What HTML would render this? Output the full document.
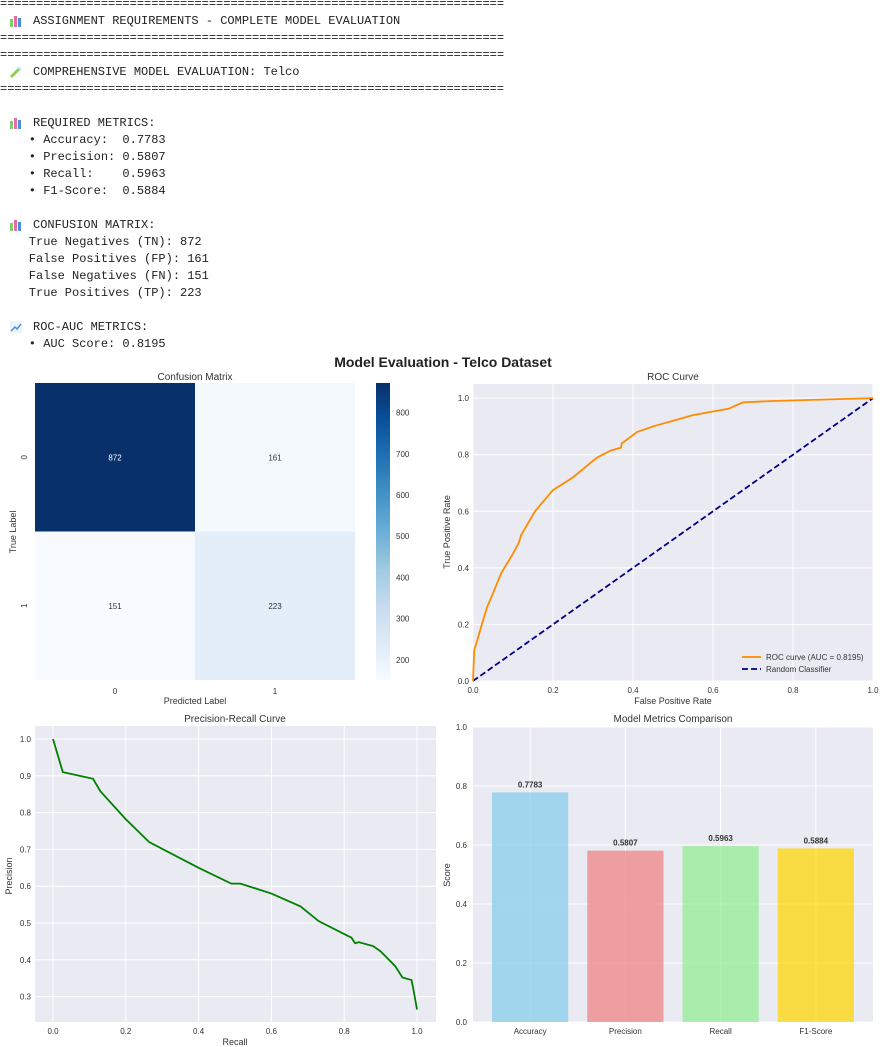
<!DOCTYPE html>
<html><head><meta charset="utf-8">
<style>
body{margin:0;background:#fff;width:890px;height:1047px;overflow:hidden;position:relative;font-family:"Liberation Sans",sans-serif}
.t{position:absolute;left:0;font-family:"Liberation Mono",monospace;font-size:12px;line-height:17px;white-space:pre;color:#222}
svg text{font-family:"Liberation Sans",sans-serif}
</style></head>
<body>
<div>
<div class="t" style="top:-4px">======================================================================</div>
<div class="t" style="top:13px;left:33px">ASSIGNMENT REQUIREMENTS - COMPLETE MODEL EVALUATION</div>
<svg style="position:absolute;left:10px;top:15px" width="12" height="12"><rect x="0" y="4" width="3" height="8" fill="#7ccf6a"/><rect x="4" y="1" width="3" height="11" fill="#e86aa6"/><rect x="8" y="3" width="3" height="9" fill="#4a90d9"/></svg>
<div class="t" style="top:30px">======================================================================</div>
<div class="t" style="top:47px">======================================================================</div>
<svg style="position:absolute;left:10px;top:66px" width="12" height="12"><line x1="1" y1="11" x2="10" y2="2" stroke="#8fd14f" stroke-width="3"/><line x1="8" y1="1" x2="11" y2="4" stroke="#aee" stroke-width="2"/></svg>
<div class="t" style="top:64px;left:33px">COMPREHENSIVE MODEL EVALUATION: Telco</div>
<div class="t" style="top:81px">======================================================================</div>
<svg style="position:absolute;left:10px;top:117px" width="12" height="12"><rect x="0" y="4" width="3" height="8" fill="#7ccf6a"/><rect x="4" y="1" width="3" height="11" fill="#e86aa6"/><rect x="8" y="3" width="3" height="9" fill="#4a90d9"/></svg>
<div class="t" style="top:115px;left:33px">REQUIRED METRICS:</div>
<div class="t" style="top:132px">    • Accuracy:  0.7783</div>
<div class="t" style="top:149px">    • Precision: 0.5807</div>
<div class="t" style="top:166px">    • Recall:    0.5963</div>
<div class="t" style="top:183px">    • F1-Score:  0.5884</div>
<svg style="position:absolute;left:10px;top:219px" width="12" height="12"><rect x="0" y="4" width="3" height="8" fill="#7ccf6a"/><rect x="4" y="1" width="3" height="11" fill="#e86aa6"/><rect x="8" y="3" width="3" height="9" fill="#4a90d9"/></svg>
<div class="t" style="top:217px;left:33px">CONFUSION MATRIX:</div>
<div class="t" style="top:234px">    True Negatives (TN): 872</div>
<div class="t" style="top:251px">    False Positives (FP): 161</div>
<div class="t" style="top:268px">    False Negatives (FN): 151</div>
<div class="t" style="top:285px">    True Positives (TP): 223</div>
<svg style="position:absolute;left:10px;top:321px" width="12" height="12"><rect x="0" y="0" width="12" height="12" fill="#eef3fa"/><polyline points="1,10 5,6 7,8 11,3" fill="none" stroke="#4a90d9" stroke-width="1.5"/></svg>
<div class="t" style="top:319px;left:33px">ROC-AUC METRICS:</div>
<div class="t" style="top:336px">    • AUC Score: 0.8195</div>
</div>

<svg id="fig" style="position:absolute;left:0;top:0" width="890" height="1047">
<text x="443" y="367" text-anchor="middle" font-size="14" font-weight="bold" fill="#222">Model Evaluation - Telco Dataset</text>
<g id="cm"></g><g id="roc"></g><g id="pr"></g><g id="bar"></g>
</svg>

<script>
const cmLabels=['0','1'];
const cmValues=[[872,161],[151,223]];
const cbTicks=[200,300,400,500,600,700,800];
const rocFpr=[0,0.003,0.01,0.02,0.035,0.05,0.07,0.1,0.115,0.12,0.155,0.2,0.25,0.31,0.345,0.37,0.372,0.41,0.45,0.55,0.64,0.655,0.675,0.75,1];
const rocTpr=[0,0.11,0.14,0.19,0.26,0.31,0.38,0.45,0.49,0.515,0.6,0.675,0.72,0.79,0.815,0.825,0.84,0.88,0.9,0.94,0.963,0.973,0.985,0.99,1];
const rocTicks=[0,0.2,0.4,0.6,0.8,1.0];
const prRecall=[0,0.027,0.11,0.13,0.2,0.264,0.4,0.49,0.515,0.6,0.68,0.73,0.8,0.82,0.83,0.84,0.88,0.9,0.94,0.96,0.985,0.99,1.0];
const prPrecision=[1.0,0.91,0.892,0.858,0.782,0.72,0.65,0.607,0.607,0.58,0.545,0.505,0.47,0.46,0.445,0.448,0.437,0.423,0.383,0.352,0.345,0.32,0.265];
const prYTicks=[0.3,0.4,0.5,0.6,0.7,0.8,0.9,1.0];
const prXTicks=[0,0.2,0.4,0.6,0.8,1.0];
const barNames=['Accuracy','Precision','Recall','F1-Score'];
const barValues=[0.7783,0.5807,0.5963,0.5884];
const barTicks=[0,0.2,0.4,0.6,0.8,1.0];
const barColors=['rgba(135,206,235,0.75)','rgba(240,128,128,0.72)','rgba(144,238,144,0.72)','rgba(255,215,0,0.72)'];

const NS='http://www.w3.org/2000/svg';
function mk(p,tag,at,txt){const e=document.createElementNS(NS,tag);for(const k in at)e.setAttribute(k,at[k]);if(txt!==undefined)e.textContent=txt;p.appendChild(e);return e;}
function blues(t){const s=[[247,251,255],[222,235,247],[198,219,239],[158,202,225],[107,174,214],[66,146,198],[33,113,181],[8,81,156],[8,48,107]];t=Math.max(0,Math.min(1,t))*8;const i=Math.min(7,Math.floor(t)),f=t-i;const c=s[i].map((v,k)=>Math.round(v+(s[i+1][k]-v)*f));return `rgb(${c})`;}
function fmt1(v){return v.toFixed(1);}

(function(){
const g=document.getElementById('cm');
const x0=35,x1=355,y0=383,y1=680,cw=(x1-x0)/2,ch=(y1-y0)/2;
const flat=cmValues.flat();const vmin=Math.min(...flat),vmax=Math.max(...flat);
mk(g,'text',{x:195,y:380,'text-anchor':'middle','font-size':10,fill:'#333'},'Confusion Matrix');
cmValues.forEach((row,i)=>row.forEach((v,j)=>{
 const t=(v-vmin)/(vmax-vmin);
 const r=mk(g,'rect',{x:x0+j*cw,y:y0+i*ch,width:cw,height:ch,fill:blues(t)});
 
 
 const tx=mk(g,'text',{x:x0+j*cw+cw/2,y:y0+i*ch+ch/2+3,'text-anchor':'middle','font-size':8,fill:t>0.5?'#fff':'#333'},String(v));
 
 
}));
cmLabels.forEach((l,j)=>{mk(g,'text',{x:x0+j*cw+cw/2,y:694,'text-anchor':'middle','font-size':8,fill:'#333'},l);
 mk(g,'text',{x:27,y:y0+j*ch+ch/2,'text-anchor':'middle','font-size':8,fill:'#333',transform:`rotate(-90 27 ${y0+j*ch+ch/2})`},l);});
mk(g,'text',{x:195,y:704,'text-anchor':'middle','font-size':9,fill:'#333'},'Predicted Label');
mk(g,'text',{x:16,y:532,'text-anchor':'middle','font-size':9,fill:'#333',transform:'rotate(-90 16 532)'},'True Label');
const cx=376,cwid=14;
const defs=mk(g,'defs',{});const lg=mk(defs,'linearGradient',{id:'cbg',x1:0,y1:1,x2:0,y2:0});
for(let k=0;k<=8;k++)mk(lg,'stop',{offset:k/8,'stop-color':blues(k/8)});
const cb=mk(g,'rect',{x:cx,y:y0,width:cwid,height:y1-y0,fill:'url(#cbg)'});


cbTicks.forEach(v=>{const y=y1-(v-vmin)/(vmax-vmin)*(y1-y0);mk(g,'text',{x:396,y:y+3,'font-size':8,fill:'#333'},String(v));});
})();

function axesBg(g,x0,x1,y0,y1){mk(g,'rect',{x:x0,y:y0,width:x1-x0,height:y1-y0,fill:'#eaeaf2'});}

(function(){
const g=document.getElementById('roc');
const X0=473,X1=873,Yt=384,Yb=681;
const sx=v=>X0+v*(X1-X0), sy=v=>Yb-v*(Yb-Yt)/1.05;
axesBg(g,X0,X1,Yt,Yb);
rocTicks.forEach(v=>{mk(g,'line',{x1:sx(v),x2:sx(v),y1:Yt,y2:Yb,stroke:'#fff','stroke-width':1});
 mk(g,'line',{x1:X0,x2:X1,y1:sy(v),y2:sy(v),stroke:'#fff','stroke-width':1});
 mk(g,'text',{x:sx(v),y:693,'text-anchor':'middle','font-size':8,fill:'#333'},fmt1(v));
 mk(g,'text',{x:469,y:sy(v)+3,'text-anchor':'end','font-size':8,fill:'#333'},fmt1(v));});
mk(g,'text',{x:673,y:380,'text-anchor':'middle','font-size':10,fill:'#333'},'ROC Curve');
mk(g,'text',{x:673,y:704,'text-anchor':'middle','font-size':9,fill:'#333'},'False Positive Rate');
mk(g,'text',{x:450,y:532,'text-anchor':'middle','font-size':9,fill:'#333',transform:'rotate(-90 450 532)'},'True Positive Rate');
const d=mk(g,'line',{x1:sx(0),y1:sy(0),x2:sx(1),y2:sy(1),stroke:'#000080','stroke-width':1.8,'stroke-dasharray':'6,3'});


const p=mk(g,'polyline',{points:rocFpr.map((v,i)=>sx(v)+','+sy(rocTpr[i])).join(' '),fill:'none',stroke:'#ff8c00','stroke-width':1.8});


mk(g,'line',{x1:742,x2:761,y1:657,y2:657,stroke:'#ff8c00','stroke-width':1.8});
mk(g,'text',{x:766,y:660,'font-size':8,fill:'#333'},'ROC curve (AUC = 0.8195)');
mk(g,'line',{x1:742,x2:761,y1:669,y2:669,stroke:'#000080','stroke-width':1.8,'stroke-dasharray':'6,3'});
mk(g,'text',{x:766,y:672,'font-size':8,fill:'#333'},'Random Classifier');
})();

(function(){
const g=document.getElementById('pr');
const X0=35,X1=436,Yt=726,Yb=1022;
const sx=v=>53+v*(417-53), sy=v=>739+(1-v)*368;
axesBg(g,X0,X1,Yt,Yb);
prXTicks.forEach(v=>{mk(g,'line',{x1:sx(v),x2:sx(v),y1:Yt,y2:Yb,stroke:'#fff','stroke-width':1});
 mk(g,'text',{x:sx(v),y:1034,'text-anchor':'middle','font-size':8,fill:'#333'},fmt1(v));});
prYTicks.forEach(v=>{mk(g,'line',{x1:X0,x2:X1,y1:sy(v),y2:sy(v),stroke:'#fff','stroke-width':1});
 mk(g,'text',{x:31,y:sy(v)+3,'text-anchor':'end','font-size':8,fill:'#333'},fmt1(v));});
mk(g,'text',{x:235,y:722,'text-anchor':'middle','font-size':10,fill:'#333'},'Precision-Recall Curve');
mk(g,'text',{x:235,y:1045,'text-anchor':'middle','font-size':9,fill:'#333'},'Recall');
mk(g,'text',{x:12,y:876,'text-anchor':'middle','font-size':9,fill:'#333',transform:'rotate(-90 12 876)'},'Precision');
const p=mk(g,'polyline',{points:prRecall.map((v,i)=>sx(v)+','+sy(prPrecision[i])).join(' '),fill:'none',stroke:'#008000','stroke-width':1.8});


})();

(function(){
const g=document.getElementById('bar');
const X0=473,X1=873,Yt=727,Yb=1022;
const sy=v=>Yb-v*(Yb-Yt);
const step=(X1-X0)/4.2, sx=i=>X0+(i+0.6)*step;
axesBg(g,X0,X1,Yt,Yb);
barTicks.forEach(v=>{mk(g,'line',{x1:X0,x2:X1,y1:sy(v),y2:sy(v),stroke:'#fff','stroke-width':1});
 mk(g,'text',{x:467,y:sy(v)+3,'text-anchor':'end','font-size':8,fill:'#333'},fmt1(v));});
barNames.forEach((n,i)=>{mk(g,'line',{x1:sx(i),x2:sx(i),y1:Yt,y2:Yb,stroke:'#fff','stroke-width':1});});
barNames.forEach((n,i)=>{
 const w=0.8*step;
 const r=mk(g,'rect',{x:sx(i)-w/2,y:sy(barValues[i]),width:w,height:Yb-sy(barValues[i]),fill:barColors[i]});
 
 
 mk(g,'text',{x:sx(i),y:sy(barValues[i])-5,'text-anchor':'middle','font-size':8,'font-weight':'bold',fill:'#333'},barValues[i].toFixed(4));
 mk(g,'text',{x:sx(i),y:1034,'text-anchor':'middle','font-size':8,fill:'#333'},n);
});
mk(g,'text',{x:673,y:722,'text-anchor':'middle','font-size':10,fill:'#333'},'Model Metrics Comparison');
mk(g,'text',{x:450,y:875,'text-anchor':'middle','font-size':9,fill:'#333',transform:'rotate(-90 450 875)'},'Score');
})();
</script>
</body></html>
